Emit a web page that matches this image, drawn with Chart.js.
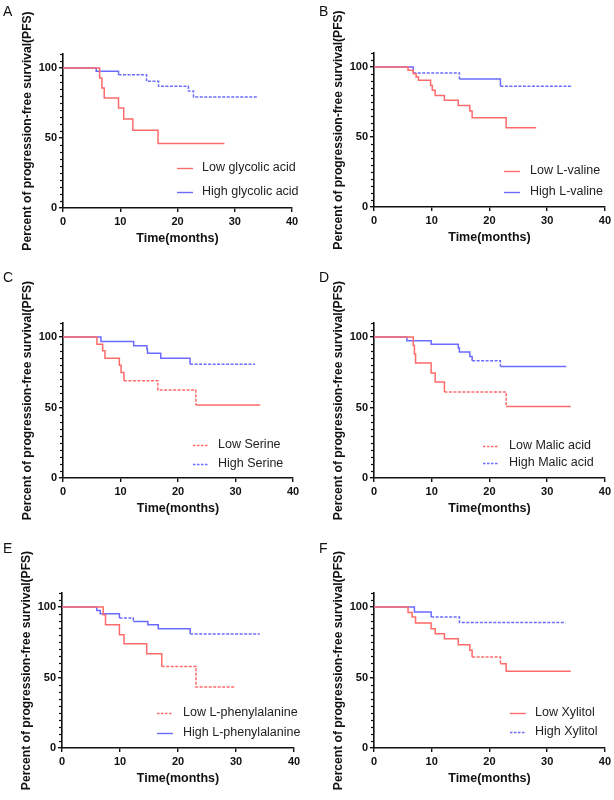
<!DOCTYPE html>
<html>
<head>
<meta charset="utf-8">
<script src="https://cdn.jsdelivr.net/npm/chart.js@4.4.1/dist/chart.umd.min.js"></script>
<style>
  html, body { margin: 0; padding: 0; background: #fff; }
  #wrap { position: relative; width: 614px; height: 800px; }
  .cell { position: absolute; width: 307px; height: 265px; }
</style>
</head>
<body>
<div id="wrap"></div>
<script>
// panel letters and group names
const panelLetters = ['A', 'B', 'C', 'D', 'E', 'F']
const lowNames = ['Low glycolic acid', 'Low L-valine', 'Low Serine', 'Low Malic acid', 'Low L-phenylalanine', 'Low Xylitol']
const highNames = ['High glycolic acid', 'High L-valine', 'High Serine', 'High Malic acid', 'High L-phenylalanine', 'High Xylitol']

// Kaplan-Meier steps: [time (months), percent PFS after the drop]
const lowA = [[0, 100], [6.4, 92.9], [6.8, 85.7], [7.2, 78.6], [9.7, 71.4], [10.6, 63.6], [12.2, 55.5], [16.6, 46], [28.2, 46]]
const highA = [[0, 100], [5.8, 97.6], [9.7, 95.2], [14.6, 90.5], [16.7, 86.9], [21.9, 83.5], [22.8, 79.3], [34.1, 79.3]]
const lowB = [[0, 100], [5.9, 97.6], [6.8, 95.2], [7.3, 92.9], [7.7, 90.5], [9.8, 86.7], [10.1, 83.4], [10.6, 79.6], [12.2, 76.3], [14.6, 72.5], [16.6, 68.5], [17.0, 63.7], [22.9, 56.6], [28.1, 56.6]]
const highB = [[0, 100], [6.8, 95.7], [14.8, 91.5], [21.9, 86.3], [34.3, 86.3]]
const lowC = [[0, 100], [5.9, 95], [6.9, 90.3], [7.3, 85], [9.8, 80], [10.1, 74.8], [10.6, 69.1], [16.5, 62.5], [23.1, 51.8], [34.3, 51.8]]
const highC = [[0, 100], [6.6, 96.9], [12.3, 93.8], [14.6, 91.4], [14.7, 88.6], [17.0, 85], [22.1, 80.8], [33.4, 80.8]]
const lowD = [[0, 100], [6.8, 94], [7.0, 88], [7.2, 81.6], [9.9, 74.5], [10.6, 68.1], [12.2, 61], [22.9, 50.8], [34.1, 50.8]]
const highD = [[0, 100], [5.7, 97.4], [9.9, 95], [14.6, 92.2], [14.8, 89.4], [16.6, 86.3], [17.0, 83.2], [21.9, 79.2], [33.3, 79.2]]
const lowE = [[0, 100], [7.1, 94.6], [7.5, 87.5], [9.9, 80.4], [10.7, 74], [14.6, 66.9], [17.2, 57.9], [23.1, 43.3], [29.8, 43.3]]
const highE = [[0, 100], [6.0, 97.6], [6.6, 95.3], [9.9, 92.2], [12.3, 89.8], [14.8, 87.5], [16.6, 84.6], [22.1, 80.9], [34.1, 80.9]]
const lowF = [[0, 100], [5.9, 96.2], [6.6, 92.9], [7.2, 88.7], [9.9, 84.6], [10.6, 81.1], [12.2, 77.5], [14.6, 73.3], [16.6, 69.3], [17.0, 64.5], [21.9, 59.8], [22.9, 54.4], [34.1, 54.4]]
const highF = [[0, 100], [7.0, 96.5], [9.9, 92.9], [14.8, 89.1], [33.2, 89.1]]

const lows = [lowA, lowB, lowC, lowD, lowE, lowF]
const highs = [highA, highB, highC, highD, highE, highF]

// axis ticks
const xTicks = [0, 10, 20, 30, 40]
const yTicks = [0, 50, 100]

// styles / layout (pixels, per panel)
const RED = '#ff6b6b'
const BLUE = '#6b6bff'
const FONT = '"Liberation Sans", Arial, sans-serif'
const INK = '#111'
const W = 307, H = 265
const cells = [[0, 0], [307, 0], [0, 265], [307, 265], [0, 530], [307, 530]]
// axis x, right end, pixel of 110, pixel of 0
const frames = [
    { axisX: 63, right: 292, top: 54, y0: 208 },
    { axisX: 67, right: 299, top: 53, y0: 207 },
    { axisX: 63, right: 293, top: 58, y0: 213 },
    { axisX: 67, right: 299, top: 58, y0: 213 },
    { axisX: 62, right: 294, top: 63, y0: 218 },
    { axisX: 67, right: 299, top: 63, y0: 218 },
]
const letterPos = [[3, 12], [12, 12], [3, 13], [12, 13], [3, 19], [12, 19]]
// legend: line start x, text x, row y's
const legendPos = [[177, 202, 168, 192], [197, 223, 171, 192], [193, 218, 180, 199], [176, 202, 181, 198], [157, 183, 183, 203], [203, 228, 183, 202]]
const legendDash = [[false, false], [false, false], [true, true], [true, true], [true, false], [false, true]]
// step segments (by start time) drawn dotted, where censor marks crowd the line
const dottedLow = [[], [], [10.6, 16.5], [12.2], [17.2, 23.1], [17.0]]
const dottedHigh = [[9.7, 14.6, 16.7, 21.9, 22.8], [6.8, 21.9], [22.1], [17.0], [9.9, 22.1], [9.9, 14.8]]

const wrap = document.getElementById('wrap')

const extras = {
    id: 'extras',
    afterDraw(chart, args, opts) {
        const ctx = chart.ctx
        const i = opts.index
        const y = chart.scales.y
        const fx = frames[i].axisX
        ctx.save()
        // minor y ticks
        ctx.strokeStyle = INK
        ctx.lineWidth = 1.2
        for (let v = 5; v <= 110; v += 5) {
            if (yTicks.includes(v)) continue
            const py = Math.round(y.getPixelForValue(v)) + 0.5
            ctx.beginPath()
            ctx.moveTo(fx - 3, py)
            ctx.lineTo(fx, py)
            ctx.stroke()
        }
        // panel letter
        ctx.fillStyle = INK
        ctx.font = '14px ' + FONT
        ctx.textBaseline = 'middle'
        ctx.textAlign = 'left'
        ctx.fillText(panelLetters[i], letterPos[i][0], letterPos[i][1])
        // legend
        const [lx, tx, r1, r2] = legendPos[i]
        const rows = [[lowNames[i], RED, r1, legendDash[i][0]], [highNames[i], BLUE, r2, legendDash[i][1]]]
        ctx.font = '12.5px ' + FONT
        for (const [name, col, ry, dash] of rows) {
            ctx.strokeStyle = col
            ctx.lineWidth = 1.4
            ctx.setLineDash(dash ? [2.5, 1.5] : [])
            ctx.beginPath()
            ctx.moveTo(lx, ry + 0.5)
            ctx.lineTo(lx + 16, ry + 0.5)
            ctx.stroke()
            ctx.fillStyle = '#222'
            ctx.fillText(name, tx, ry)
        }
        ctx.restore()
    }
}

function makeChart(i) {
    const f = frames[i]
    const cell = document.createElement('div')
    cell.className = 'cell'
    cell.style.left = cells[i][0] + 'px'
    cell.style.top = cells[i][1] + 'px'
    const cv = document.createElement('canvas')
    cv.width = W
    cv.height = H
    cv.style.width = W + 'px'
    cv.style.height = H + 'px'
    cell.appendChild(cv)
    wrap.appendChild(cell)

    const series = (pts, label, color, dotted) => ({
        label,
        data: pts.map(([x, y]) => ({ x, y })),
        borderColor: color,
        borderWidth: 1.5,
        stepped: 'before',
        pointRadius: 0,
        fill: false,
        segment: {
            borderDash: c => dotted.includes(c.p0.parsed.x) ? [3, 1.5] : undefined,
        },
    })

    const tickFont = { family: FONT, size: 11, weight: 'bold' }
    const xTitleFont = { family: FONT, size: 12.5, weight: 'bold' }
    const yTitleFont = { family: FONT, size: 12.1, weight: 'bold' }

    return new Chart(cv, {
        type: 'line',
        data: {
            datasets: [
                series(lows[i], lowNames[i], RED, dottedLow[i]),
                series(highs[i], highNames[i], BLUE, dottedHigh[i]),
            ]
        },
        options: {
            responsive: false,
            animation: false,
            events: [],
            layout: { padding: { left: 0, right: W - f.right, top: f.top, bottom: 0 } },
            plugins: {
                legend: { display: false },
                tooltip: { enabled: false },
                extras: { index: i },
            },
            scales: {
                x: {
                    type: 'linear',
                    min: 0,
                    max: 40,
                    afterBuildTicks: s => { s.ticks = xTicks.map(v => ({ value: v })) },
                    afterFit: s => { s.height = H - f.y0 },
                    ticks: { font: tickFont, color: INK, padding: 3, maxRotation: 0 },
                    grid: { display: true, drawOnChartArea: false, tickLength: 4, color: INK, lineWidth: 1.4 },
                    border: { display: true, color: INK, width: 1.6 },
                    title: {
                        display: true, text: 'Time(months)', font: xTitleFont, color: INK,
                        padding: { top: 0, bottom: H - (f.y0 + 31) - 7.5 }
                    },
                },
                y: {
                    type: 'linear',
                    min: 0,
                    max: 110,
                    afterBuildTicks: s => { s.ticks = yTicks.map(v => ({ value: v })) },
                    afterFit: s => { s.width = f.axisX },
                    ticks: { font: tickFont, color: INK, padding: 2 },
                    grid: { display: true, drawOnChartArea: false, tickLength: 4, color: INK, lineWidth: 1.4 },
                    border: { display: true, color: INK, width: 1.6 },
                    title: {
                        display: true, text: 'Percent of progression-free survival(PFS)', font: yTitleFont, color: INK,
                        padding: { top: f.axisX - 35 - 7.3, bottom: 0 }
                    },
                },
            },
        },
        plugins: [extras],
    })
}

panelLetters.forEach((_, i) => makeChart(i))
</script>
</body>
</html>
